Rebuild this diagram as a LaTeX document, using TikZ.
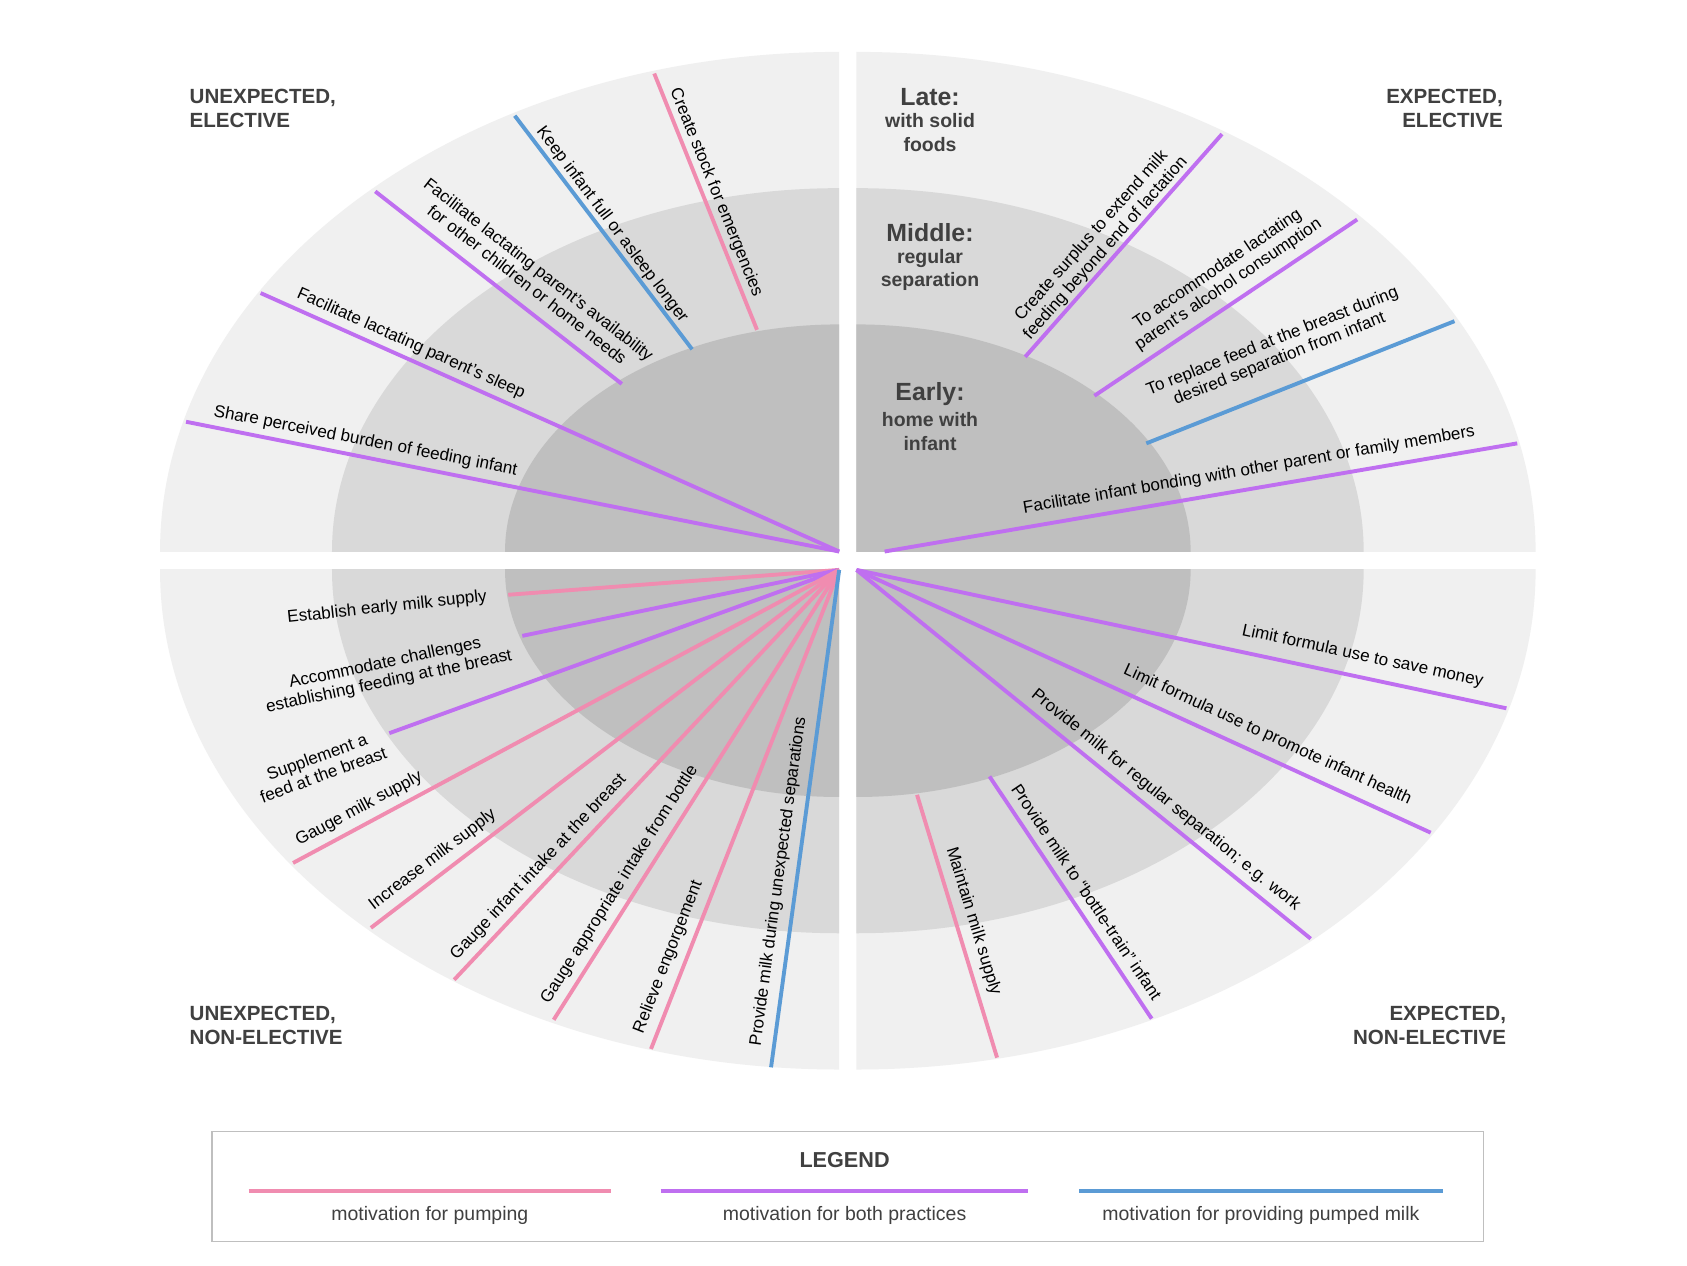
\documentclass[tikz,border=0pt]{standalone}
\usepackage{fontspec}
\setmainfont{Liberation Sans}
\usepackage{tikz}
\usetikzlibrary{positioning,calc}
\definecolor{outerring}{HTML}{F0F0F0}
\definecolor{midring}{HTML}{D9D9D9}
\definecolor{innerring}{HTML}{BFBFBF}
\definecolor{pumpcol}{HTML}{F08CB0}
\definecolor{bothcol}{HTML}{BF6FF0}
\definecolor{milkcol}{HTML}{5B9BD5}
\definecolor{headcol}{HTML}{404040}
\tikzset{
  pk/.style={draw=pumpcol, line width=1.8pt},
  pu/.style={draw=bothcol, line width=1.8pt},
  bl/.style={draw=milkcol, line width=1.8pt},
  lbl/.style={font=\fontsize{7.9}{8.8}\selectfont, align=center, inner sep=0pt},
  quadlbl/.style={font=\fontsize{9.5}{11}\selectfont\bfseries, text=headcol, inner sep=0pt},
  zonehead/.style={font=\fontsize{11.5}{13}\selectfont\bfseries, text=headcol, inner sep=0pt},
  zonesub/.style={font=\fontsize{9}{11}\selectfont\bfseries, text=headcol, align=center, inner sep=0pt}
}
\begin{document}
\begin{tikzpicture}[x=0.5pt, y=-0.5pt]
  \useasboundingbox (0,0) rectangle (1560,1170);
  \fill[white] (0,0) rectangle (1560,1170);

  % ===== quarter rings =====
  \foreach \cx/\cy/\fx/\fy in {776/510/100/0, 792/510/1500/0, 776/527/100/1100, 792/527/1500/1100}{
    \begin{scope}
      \clip (\cx,\cy) rectangle (\fx,\fy);
      \fill[outerring] (\cx,\cy) ellipse [x radius=314pt, y radius=231pt];
      \fill[midring] (\cx,\cy) ellipse [x radius=234.5pt, y radius=168pt];
      \fill[innerring] (\cx,\cy) ellipse [x radius=154.5pt, y radius=105pt];
    \end{scope}
  }

  % ===== motivation lines =====
  \foreach \n/\sx/\sy/\ex/\ey/\c in {
      a/700/305/605/68/pk, b/640/323/476/107/bl, c/575/355/347/177/pu,
      d/776/510/241/271/pu, e/776/510/172/390/pu,
      f/948/330/1130/124/pu, g/1012/366/1255/203/pu, h/1060/410/1345/297/bl,
      i/818/510/1403/410/pu,
      j/776/527/470/550/pk, k/776/527/483/588/pu, l/776/527/360/678/pu,
      m/776/527/271/798/pk, n/776/527/343/858/pk, o/776/527/420/906/pk,
      p/776/527/512/943/pk, q/776/527/602/970/pk, r/776/527/713/987/bl,
      s/792/527/1393/655/pu, t/792/527/1323/770/pu, u/792/527/1212/868/pu,
      v/915/718/1065/942/pu, w/848/735/922/978/pk}{
    \coordinate (s\n) at (\sx,\sy);
    \coordinate (e\n) at (\ex,\ey);
    \draw[\c] (s\n) -- (e\n);
  }

  % ===== line labels =====
  \node[lbl, rotate=-68] (ta) at (662,178) {Create stock for emergencies};
  \node[lbl, rotate=-53] (tb) at (566,208) {Keep infant full or asleep longer};
  \node[lbl, rotate=-38] (tc) at (493,256) {Facilitate lactating parent’s availability\\for other children or home needs};
  \node[lbl, rotate=-24] (td) at (380,318) {Facilitate lactating parent’s sleep};
  \node[lbl, rotate=-11] (te) at (338,408) {Share perceived burden of feeding infant};
  \node[lbl, rotate=48.5] (tf) at (1016,224) {Create surplus to extend milk\\feeding beyond end of lactation};
  \node[lbl, rotate=34] (tg) at (1131,256) {To accommodate lactating\\parent’s alcohol consumption};
  \node[lbl, rotate=21.6] (th) at (1180,324) {To replace feed at the breast during\\desired separation from infant};
  \node[lbl, rotate=9.7] (ti) at (1155,435) {Facilitate infant bonding with other parent or family members};
  \node[lbl, rotate=6] (tj) at (358,562) {Establish early milk supply};
  \node[lbl, rotate=12] (tk) at (358,622) {Accommodate challenges\\establishing feeding at the breast};
  \node[lbl, rotate=20] (tl) at (296,708) {Supplement a\\feed at the breast};
  \node[lbl, rotate=28] (tm) at (332,748) {Gauge milk supply};
  \node[lbl, rotate=37.4] (tn) at (400,795) {Increase milk supply};
  \node[lbl, rotate=46.8] (to) at (498,802) {Gauge infant intake at the breast};
  \node[lbl, rotate=57.6] (tp) at (573,818) {Gauge appropriate intake from bottle};
  \node[lbl, rotate=68.6] (tq) at (618,885) {Relieve engorgement};
  \node[lbl, rotate=82.2] (tr) at (720,815) {Provide milk during unexpected separations};
  \node[lbl, rotate=-12] (ts) at (1260,607) {Limit formula use to save money};
  \node[lbl, rotate=-24.6] (tt) at (1172,680) {Limit formula use to promote infant health};
  \node[lbl, rotate=-39] (tu) at (1078,740) {Provide milk for regular separation; e.g. work};
  \node[lbl, rotate=-56.2] (tv) at (1005,825) {Provide milk to “bottle-train” infant};
  \node[lbl, rotate=-73] (tw) at (900,852) {Maintain milk supply};

  % ===== quadrant labels =====
  \node[quadlbl, anchor=west, align=left] (ue) at (175,100) {UNEXPECTED,\\ELECTIVE};
  \node[quadlbl, anchor=east, align=right] (ee) at (1390,100) {EXPECTED,\\ELECTIVE};
  \node[quadlbl, anchor=west, align=left] (un) at (175,948) {UNEXPECTED,\\NON-ELECTIVE};
  \node[quadlbl, anchor=east, align=right] (en) at (1393,948) {EXPECTED,\\NON-ELECTIVE};

  % ===== zones =====
  \node[zonehead] (late) at (860,90) {Late:};
  \node[zonesub, below=3pt of late] (latesub) {with solid\\foods};
  \node[zonehead] (mid) at (860,215) {Middle:};
  \node[zonesub, below=3pt of mid] (midsub) {regular\\separation};
  \node[zonehead] (early) at (860,364) {Early:};
  \node[zonesub, below=3pt of early] (earlysub) {home with\\infant};

  % ===== legend =====
  \draw[black!25, line width=0.6pt] (196,1046) rectangle (1372,1148);
  \node[font=\fontsize{10}{12}\selectfont\bfseries, text=headcol] (leg) at (781,1073) {LEGEND};
  \foreach \n/\xa/\xb/\c/\t in {lp/230/565/pk/motivation for pumping,
      lb/611/951/pu/motivation for both practices,
      lm/998/1334/bl/motivation for providing pumped milk}{
    \coordinate (\n a) at (\xa,1101);
    \coordinate (\n b) at (\xb,1101);
    \draw[\c] (\n a) -- (\n b);
    \node[font=\fontsize{9}{11}\selectfont, text=headcol] (\n t) at ($(\n a)!0.5!(\n b)+(0,23)$) {\t};
  }
\end{tikzpicture}
\end{document}
